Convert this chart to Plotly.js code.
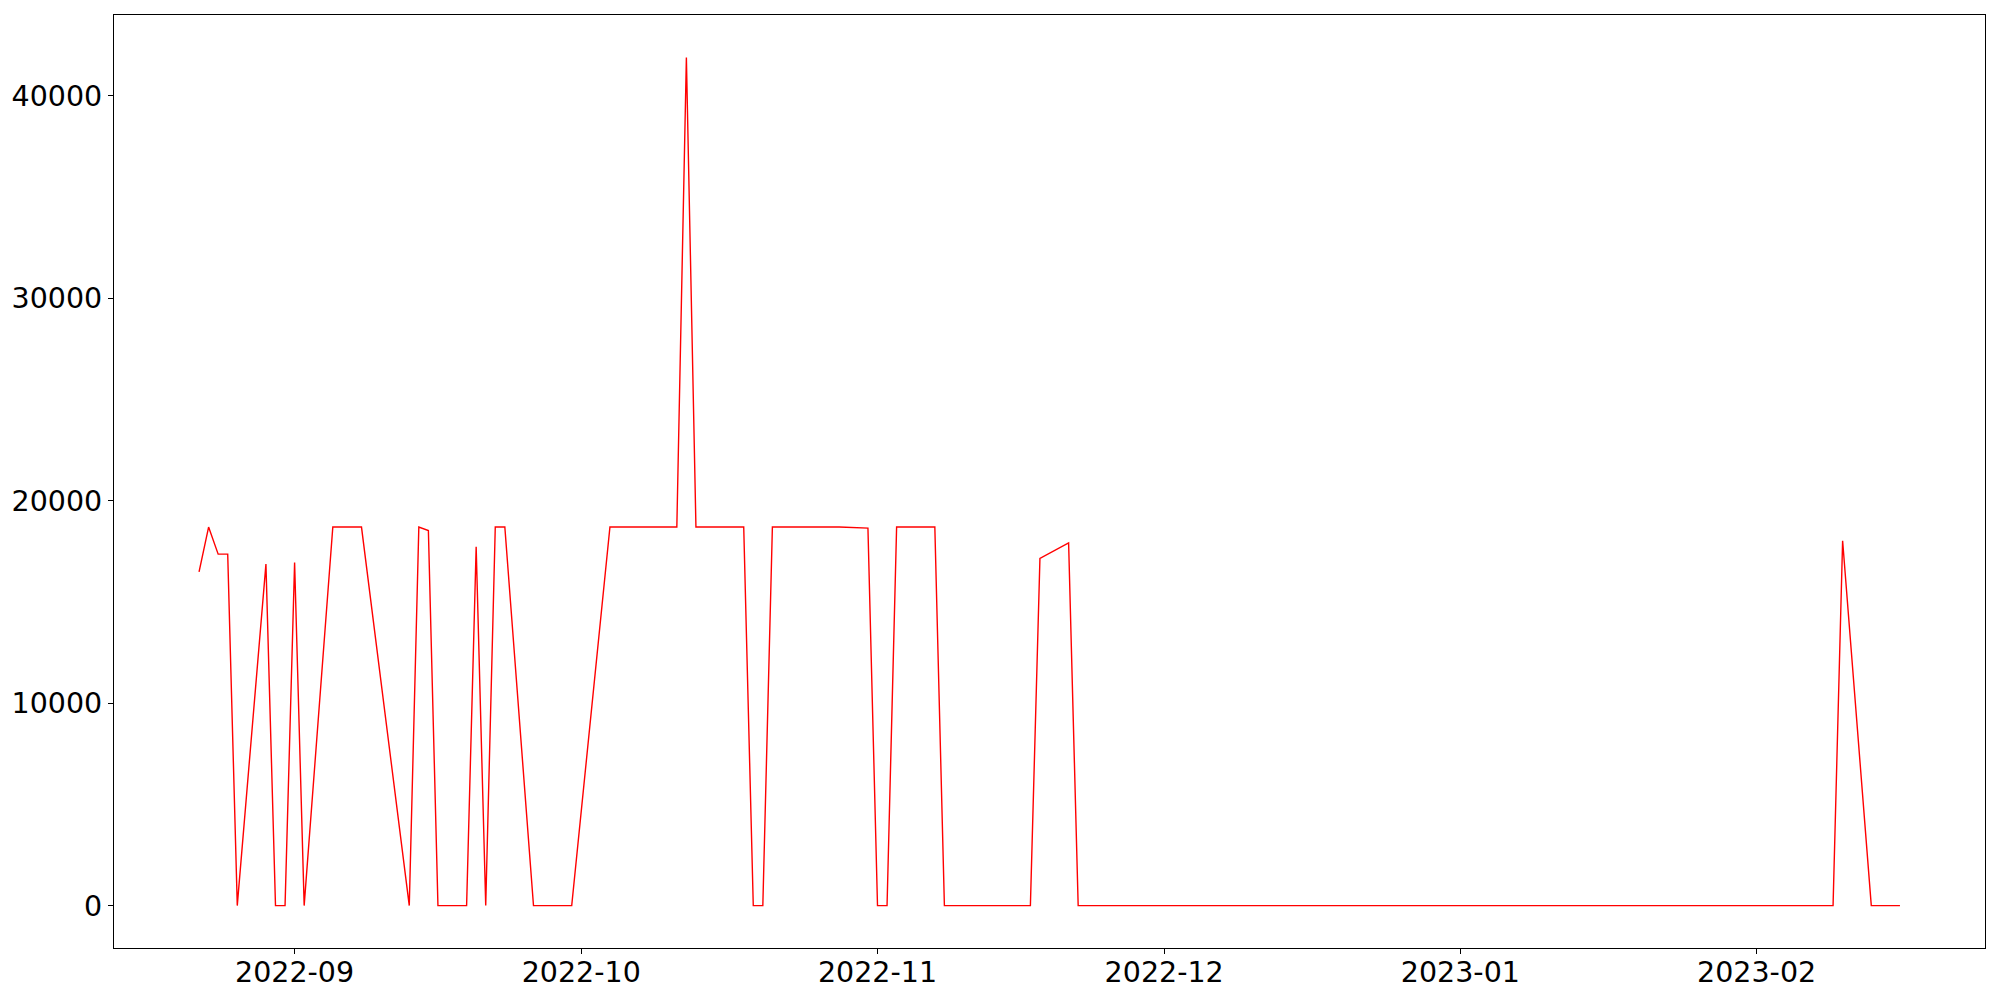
<!DOCTYPE html>
<html>
<head>
<meta charset="utf-8">
<script src="https://cdn.plot.ly/plotly-3.0.1.min.js"></script>
<style>html,body{margin:0;padding:0;background:#fff;}#chart{width:2000px;height:1000px;}</style>
</head>
<body>
<div id="chart"></div>
<script>
const dates = ['2022-08-22','2022-08-23','2022-08-24','2022-08-25','2022-08-26','2022-08-29','2022-08-30','2022-08-31','2022-09-01','2022-09-02','2022-09-05','2022-09-08','2022-09-13','2022-09-14','2022-09-15','2022-09-16','2022-09-19','2022-09-20','2022-09-21','2022-09-22','2022-09-23','2022-09-26','2022-09-30','2022-10-04','2022-10-11','2022-10-12','2022-10-13','2022-10-18','2022-10-19','2022-10-20','2022-10-21','2022-10-28','2022-10-31','2022-11-01','2022-11-02','2022-11-03','2022-11-07','2022-11-08','2022-11-17','2022-11-18','2022-11-21','2022-11-22','2023-02-09','2023-02-10','2023-02-13','2023-02-16'];
const values = [16490,18700,17360,17360,0,16870,0,0,16950,0,18700,18700,0,18700,18530,0,0,17720,0,18700,18700,0,0,18700,18700,41900,18700,18700,0,0,18700,18700,18650,0,0,18700,18700,0,0,17150,17920,0,0,18020,0,0];
const yTicks = [0,10000,20000,30000,40000];
const xTicks = ['2022-09-01','2022-10-01','2022-11-01','2022-12-01','2023-01-01','2023-02-01'];
const xTickText = ['2022-09','2022-10','2022-11','2022-12','2023-01','2023-02'];

const trace = {
  x: dates, y: values, type: 'scatter', mode: 'lines',
  line: {color: 'red', width: 1.4},
  hoverinfo: 'skip'
};
const axisCommon = {
  showgrid: false, zeroline: false, showline: true, mirror: true,
  linecolor: 'black', linewidth: 1.1,
  ticks: 'outside', ticklen: 5, tickwidth: 1.1, tickcolor: 'black',
  tickfont: {family: 'DejaVu Sans', size: 28.5, color: 'black'}
};
const layout = {
  width: 2000, height: 1000,
  paper_bgcolor: 'white', plot_bgcolor: 'white',
  margin: {l: 114, r: 15, t: 15, b: 52},
  showlegend: false,
  xaxis: Object.assign({}, axisCommon, {
    type: 'date',
    range: ['2022-08-13 02:24', '2023-02-24 21:36'],
    tickmode: 'array', tickvals: xTicks, ticktext: xTickText,
    ticklabelstandoff: -6
  }),
  yaxis: Object.assign({}, axisCommon, {
    range: [-2095, 43995],
    tickmode: 'array', tickvals: yTicks, ticktext: yTicks.map(String)
  })
};
Plotly.newPlot('chart', [trace], layout, {staticPlot: true, displayModeBar: false});
</script>
</body>
</html>
